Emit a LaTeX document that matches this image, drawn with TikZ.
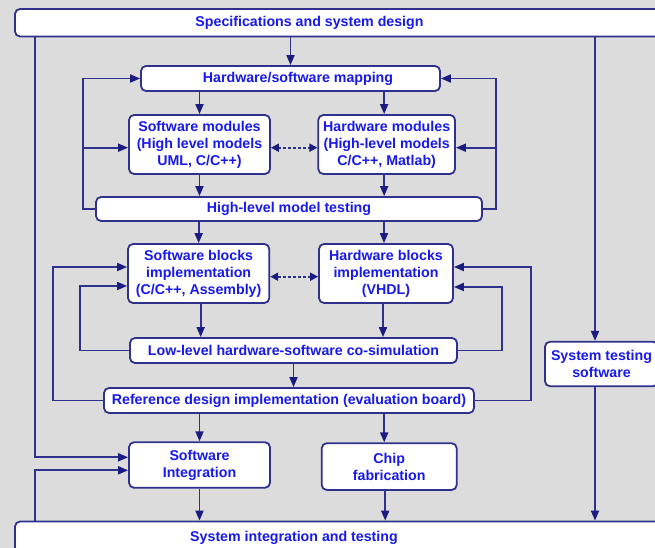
\documentclass[tikz,border=0pt]{standalone}
\usepackage{fontspec}
\setmainfont{Liberation Sans}
\usetikzlibrary{arrows.meta,calc}

\definecolor{bgGray}{HTML}{DCDCDC}
\definecolor{lineNavy}{HTML}{30308E}
\definecolor{tipNavy}{HTML}{1C1C80}
\definecolor{textBlue}{HTML}{1818F0}

\tikzset{
  box/.style={draw=lineNavy, line width=1.8pt, fill=white, rounded corners=5pt,
              inner sep=0pt, align=center, text=textBlue,
              font=\fontsize{14.2}{17}\selectfont\bfseries},
  boxtext/.style={inner sep=0pt, align=center, text=textBlue,
              font=\fontsize{14.2}{17}\selectfont\bfseries},
  link/.style={draw=lineNavy, line width=1.8pt},
  arr/.style={link, -{Triangle[length=10pt,width=8pt,color=tipNavy]}},
  darr/.style={link, dash pattern=on 3pt off 2pt,
               {Triangle[length=8pt,width=8pt,color=tipNavy]}-{Triangle[length=8pt,width=8pt,color=tipNavy]}},
}

\begin{document}
\begin{tikzpicture}[x=1pt,y=-1pt]
  % canvas
  \useasboundingbox (0,0) rectangle (655,548);
  \fill[bgGray] (0,0) rectangle (655,548);
  \clip (0,0) rectangle (655,548);

  % guide columns for the routed lines
  \coordinate (L)   at (35,0);
  \coordinate (R)   at (595,0);
  \coordinate (XL1) at (83,0);
  \coordinate (XR1) at (496,0);
  \coordinate (XL2) at (80,0);
  \coordinate (XL3) at (53,0);
  \coordinate (XR2) at (502,0);
  \coordinate (XR3) at (531,0);

  % boxes
  \node[box, minimum width=685pt, minimum height=27.5pt] (spec) at (357.5,22.75) {};
  \node[boxtext] (spectext) at (309.5,23) {Specifications and system design};

  \node[box, minimum width=299pt, minimum height=25pt] (map) at (290.5,78.5)
       {\hspace*{15pt}Hardware/software mapping};

  \node[box, minimum width=141pt, minimum height=59pt] (swmod) at (199.5,144.5)
       {Software modules\\(High level models\\UML, C/C++)};
  \node[box, minimum width=136.7pt, minimum height=59pt] (hwmod) at (386.65,144.5)
       {Hardware modules\\(High-level models\\C/C++, Matlab)};

  \node[box, minimum width=386pt, minimum height=24pt] (hltest) at (289,209)
       {High-level model testing};

  \node[box, minimum width=141.3pt, minimum height=59pt] (swblk) at (198.65,273.5)
       {Software blocks\\implementation\\(C/C++, Assembly)};
  \node[box, minimum width=134pt, minimum height=59pt] (hwblk) at (386,273.5)
       {Hardware blocks\\implementation\\(VHDL)};

  \node[box, minimum width=327pt, minimum height=25pt] (lowlev) at (293.5,350.5)
       {Low-level hardware-software co-simulation};

  \node[box, minimum width=370pt, minimum height=25pt] (ref) at (289,400.5)
       {Reference design implementation (evaluation board)};

  \node[box, minimum width=141pt, minimum height=45.5pt] (swint) at (199.5,465)
       {Software\\Integration};
  \node[box, minimum width=135pt, minimum height=46.7pt] (chip) at (389.2,466.6)
       {Chip\\fabrication};

  \node[box, minimum width=113pt, minimum height=44.5pt] (systest) at (601.5,364)
       {System testing\\software};

  \node[box, minimum width=685pt, minimum height=60pt] (bot) at (357.5,551.5) {};
  \node[boxtext] (bottext) at (294,537.5) {System integration and testing};

  % top-level flow
  \draw[arr] (spec.south -| map.north) -- (map.north);
  \draw[arr] (spec.south -| L) |- ([yshift=7.7pt]swint.west);
  \draw[arr] (spec.south -| R) -- (systest.north -| R);

  % high-level modelling stage
  \draw[arr] (map.south -| swmod.north) -- (swmod.north);
  \draw[arr] ([xshift=-2.5pt]map.south -| hwmod.north) -- ([xshift=-2.5pt]hwmod.north);
  \draw[darr] ([yshift=-3.2pt]swmod.east) -- ([yshift=-3.2pt]hwmod.west);
  \draw[arr] (swmod.south) -- (swmod.south |- hltest.north);
  \draw[arr] ([xshift=-2.5pt]hwmod.south) -- ([xshift=-2.5pt]hwmod.south |- hltest.north);

  % feedback from high-level testing
  \draw[arr] (hltest.west) -| (XL1 |- map.west) -- (map.west);
  \draw[arr] ($(XL1 |- swmod.west)+(0,3.2)$) -- ([yshift=-3.2pt]swmod.west);
  \draw[arr] (hltest.east) -| (XR1 |- map.east) -- (map.east);
  \draw[arr] ($(XR1 |- hwmod.east)+(0,3.2)$) -- ([yshift=-3.2pt]hwmod.east);

  % low-level implementation stage
  \draw[arr] (hltest.south -| swblk.north) -- (swblk.north);
  \draw[arr] ([xshift=-2pt]hltest.south -| hwblk.north) -- ([xshift=-2pt]hwblk.north);
  \draw[darr] ([yshift=-3.2pt]swblk.east) -- ([yshift=-3.2pt]hwblk.west);
  \draw[arr] ([xshift=2pt]swblk.south) -- ([xshift=2pt]swblk.south |- lowlev.north);
  \draw[arr] ([xshift=-3pt]hwblk.south) -- ([xshift=-3pt]hwblk.south |- lowlev.north);

  % feedback from co-simulation and evaluation board
  \draw[arr] (lowlev.west) -| ($(XL2 |- swblk.west)+(0,12.5)$) -- ([yshift=-12.5pt]swblk.west);
  \draw[arr] (ref.west) -| ($(XL3 |- swblk.west)+(0,-6.5)$) -- ([yshift=6.5pt]swblk.west);
  \draw[arr] (lowlev.east) -| ($(XR2 |- hwblk.east)+(0,13.5)$) -- ([yshift=-13.5pt]hwblk.east);
  \draw[arr] (ref.east) -| ($(XR3 |- hwblk.east)+(0,-6.5)$) -- ([yshift=6.5pt]hwblk.east);

  \draw[arr] (lowlev.south) -- (lowlev.south |- ref.north);

  % integration stage
  \draw[arr] (ref.south -| swint.north) -- (swint.north);
  \draw[arr] ([xshift=-5pt]ref.south -| chip.north) -- ([xshift=-5pt]chip.north);
  \draw[arr] (swint.south) -- (swint.south |- bot.north);
  \draw[arr] ([xshift=-4pt]chip.south) -- ([xshift=-4pt]chip.south |- bot.north);
  \draw[arr] (systest.south -| R) -- (bot.north -| R);
  \draw[arr] (bot.north -| L) |- ([yshift=-5.3pt]swint.west);
\end{tikzpicture}
\end{document}
